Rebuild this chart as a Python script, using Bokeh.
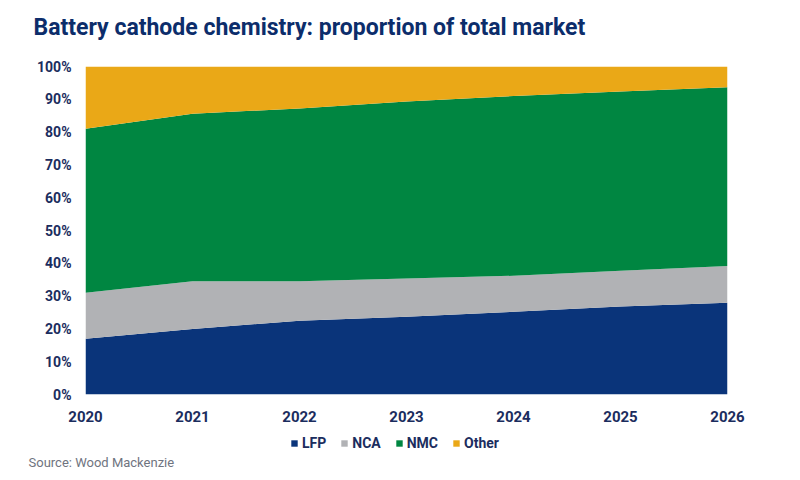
from bokeh.plotting import figure
from bokeh.layouts import column
from bokeh.models import (Legend, LegendItem, FixedTicker, PrintfTickFormatter,
                          Range1d, Title, ColumnDataSource)
from bokeh.embed import file_html
from bokeh.resources import INLINE

years = [2020, 2021, 2022, 2023, 2024, 2025, 2026]
lfp = [17.0, 20.0, 22.5, 23.7, 25.2, 26.8, 28.0]
nca = [14.0, 14.5, 12.0, 11.7, 11.0, 10.9, 11.2]
nmc = [50.0, 51.1, 52.7, 53.9, 54.8, 54.7, 54.5]
other = [round(100 - a - b - c, 1) for a, b, c in zip(lfp, nca, nmc)]
series = ["LFP", "NCA", "NMC", "Other"]
colors = ["#0a347a", "#b1b2b5", "#008641", "#eaa817"]
y_ticks = list(range(0, 101, 10))
title_text = "Battery cathode chemistry: proportion of total market"
source_text = "Source: Wood Mackenzie"

src = ColumnDataSource(dict(year=years, LFP=lfp, NCA=nca, NMC=nmc, Other=other))

FONT = "Roboto"
NAVY = "#1b2d5e"
W = 784


def strip(height, top, bottom):
    f = figure(width=W, height=height, output_backend="svg", toolbar_location=None,
               x_range=Range1d(0, 1), y_range=Range1d(0, 1),
               x_axis_type=None, y_axis_type=None,
               min_border_left=85, min_border_right=57, min_border_top=top,
               min_border_bottom=bottom)
    f.outline_line_color = None
    f.grid.grid_line_color = None
    return f


# ---- title strip ----
pt = strip(50, 0, 40)
pt.add_layout(Title(text=title_text, text_font=FONT, text_font_size="23px",
                    text_font_style="bold", text_color="#0c2d6b", align="left",
                    offset=-52, standoff=2), "below")

# ---- main chart ----
p = figure(width=W, height=380, output_backend="svg", toolbar_location=None,
           x_range=Range1d(2020, 2026), y_range=Range1d(0, 100),
           min_border_left=85, min_border_right=57, min_border_top=16,
           min_border_bottom=36)
p.outline_line_color = None
p.grid.grid_line_color = None

rs = p.varea_stack(stackers=series, x="year", color=colors, source=src)

p.yaxis.ticker = FixedTicker(ticks=y_ticks)
p.yaxis.formatter = PrintfTickFormatter(format="%d%%")
p.yaxis.axis_line_color = None
p.yaxis.major_tick_line_color = None
p.yaxis.minor_tick_line_color = None
p.yaxis.major_label_standoff = 8
p.yaxis.major_label_text_font = FONT
p.yaxis.major_label_text_font_size = "14px"
p.yaxis.major_label_text_font_style = "bold"
p.yaxis.major_label_text_color = NAVY

p.xaxis.ticker = FixedTicker(ticks=years)
p.xaxis.axis_line_color = None
p.xaxis.major_tick_line_color = None
p.xaxis.minor_tick_line_color = None
p.xaxis.major_label_standoff = 10
p.xaxis.major_label_text_font = FONT
p.xaxis.major_label_text_font_size = "15px"
p.xaxis.major_label_text_font_style = "bold"
p.xaxis.major_label_text_color = NAVY

# ---- legend + source strip (frame aligned with main frame by the column) ----
pl = strip(50, 0, 29)
# legend keys: same stacked areas, lying outside this strip's visible range
legend_rs = pl.varea_stack(stackers=series, x="year", color=colors, source=src)
legend = Legend(items=[LegendItem(label=s, renderers=[r]) for s, r in zip(series, legend_rs)],
                orientation="horizontal", location=(205, 0),
                border_line_color=None, background_fill_alpha=0,
                glyph_width=8, glyph_height=8, label_standoff=4, spacing=14,
                padding=0, margin=0,
                label_text_font=FONT, label_text_font_size="14px",
                label_text_font_style="bold", label_text_color=NAVY)
pl.add_layout(legend, "center")
pl.add_layout(Title(text=source_text, text_font=FONT, text_font_size="13px",
                    text_font_style="normal", text_color="#6f7480", align="left",
                    offset=-57, standoff=2), "below")

layout = column(pt, p, pl, spacing=0)
open("out.html", "w").write(file_html(layout, INLINE))
